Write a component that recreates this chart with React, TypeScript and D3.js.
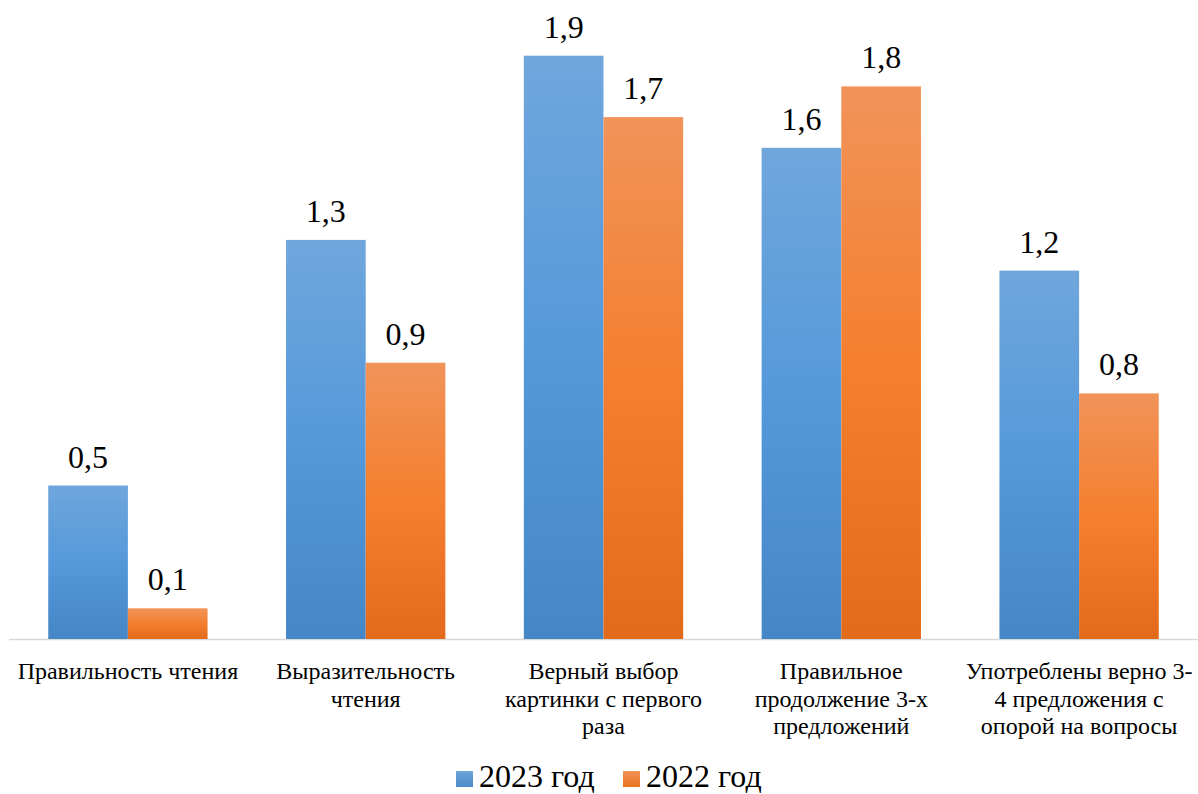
import React from "react";
import * as d3 from "d3";

const categories = [
  ["Правильность чтения"],
  ["Выразительность", "чтения"],
  ["Верный выбор", "картинки с первого", "раза"],
  ["Правильное", "продолжение 3-х", "предложений"],
  ["Употреблены верно 3-", "4 предложения с", "опорой на вопросы"],
];
const series = ["2023 год", "2022 год"];
const values2023 = [0.5, 1.3, 1.9, 1.6, 1.2];
const values2022 = [0.1, 0.9, 1.7, 1.8, 0.8];
const yMax = 2;

const W = 1198;
const H = 794;
const left = 9;
const right = 1198;
const baseY = 639;
const topY = 25;
const FONT = "Liberation Serif";

export default function App() {
  const x = d3.scaleBand<number>().domain(d3.range(categories.length)).range([left, right]).paddingInner(0).paddingOuter(0);
  const y = d3.scaleLinear().domain([0, yMax]).range([baseY, topY]);
  const bw = x.bandwidth();
  const barW = bw * 0.335;
  const seriesVals = [values2023, values2022];
  const grads = ["gBlue", "gOrange"];
  const ts = { fontFamily: FONT };
  return (
    <svg width={W} height={H} style={{ position: "absolute", left: 0, top: 0, background: "#fff" }}>
      <defs>
        <linearGradient id="gBlue" x1="0" y1="0" x2="0" y2="1">
          <stop offset="0" stopColor="#70A6DC" />
          <stop offset="0.5" stopColor="#5599DB" />
          <stop offset="1" stopColor="#4586C6" />
        </linearGradient>
        <linearGradient id="gOrange" x1="0" y1="0" x2="0" y2="1">
          <stop offset="0" stopColor="#F1935A" />
          <stop offset="0.5" stopColor="#F47F2E" />
          <stop offset="1" stopColor="#E26B1B" />
        </linearGradient>
        <linearGradient id="lBlue" x1="0" y1="0" x2="0" y2="1">
          <stop offset="0" stopColor="#6FA5DA" />
          <stop offset="1" stopColor="#4A8AC9" />
        </linearGradient>
        <linearGradient id="lOrange" x1="0" y1="0" x2="0" y2="1">
          <stop offset="0" stopColor="#F1935A" />
          <stop offset="1" stopColor="#E8721F" />
        </linearGradient>
      </defs>
      <line x1={left} x2={right} y1={baseY + 0.5} y2={baseY + 0.5} stroke="#D9D9D9" strokeWidth={1.5} />
      {categories.map((lines, i) => {
        const cx = (x(i) as number) + bw / 2;
        return (
          <g key={i}>
            {seriesVals.map((vals, s) => {
              const bx = s === 0 ? cx - barW : cx;
              const ty = y(vals[i]);
              return (
                <g key={s}>
                  <rect x={bx} y={ty} width={barW} height={baseY - ty} fill={`url(#${grads[s]})`} />
                  <text x={bx + barW / 2} y={ty - 18} textAnchor="middle" fontSize={32} fill="#000" style={ts}>
                    {vals[i].toFixed(1).replace(".", ",")}
                  </text>
                </g>
              );
            })}
            {lines.map((ln, k) => (
              <text key={k} x={cx} y={679 + k * 27.5} textAnchor="middle" fontSize={24} fill="#000" style={ts}>
                {ln}
              </text>
            ))}
          </g>
        );
      })}
      <g>
        <rect x={456} y={771} width={17} height={16} fill="url(#lBlue)" />
        <text x={479} y={787} fontSize={32} fill="#000" style={ts}>{series[0]}</text>
        <rect x={623} y={771} width={17} height={16} fill="url(#lOrange)" />
        <text x={646} y={787} fontSize={32} fill="#000" style={ts}>{series[1]}</text>
      </g>
    </svg>
  );
}
